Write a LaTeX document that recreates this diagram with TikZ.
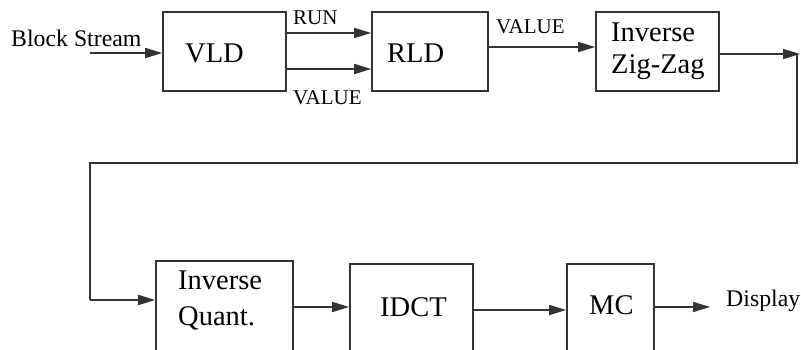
\documentclass[tikz,border=0pt]{standalone}
\usepackage{fontspec}
\setmainfont{Liberation Serif}
\usetikzlibrary{arrows.meta}
\tikzset{
  blk/.style={draw=black!80, line width=1.6pt, rectangle, inner sep=0pt},
  arr/.style={draw=black!80, line width=1.6pt, -{Triangle[length=17pt,width=10pt]}},
  wire/.style={draw=black!80, line width=1.6pt},
  big/.style={anchor=base west, inner sep=0pt, font=\fontsize{28.5}{32}\selectfont},
  mid/.style={anchor=base west, inner sep=0pt, font=\fontsize{23.8}{27}\selectfont},
  sml/.style={anchor=base west, inner sep=0pt, font=\fontsize{21}{24}\selectfont},
}
\begin{document}
\begin{tikzpicture}[x=1pt,y=-1pt]
\useasboundingbox (0,0) rectangle (801,350);
\clip (0,0) rectangle (801,350);

% processing blocks, upper row
\node[blk, minimum width=123pt, minimum height=79pt] (vld) at (224.5,51.5) {};
\node[blk, minimum width=116pt, minimum height=79pt] (rld) at (430,51.5) {};
\node[blk, minimum width=123pt, minimum height=79pt] (izz) at (657.5,51.5) {};

% processing blocks, lower row
\node[blk, minimum width=137pt, minimum height=99pt] (iq) at (224.5,310.5) {};
\node[blk, minimum width=123pt, minimum height=96pt] (idct) at (411.5,312) {};
\node[blk, minimum width=87pt, minimum height=96pt] (mc) at (610.5,312) {};

% block labels
\node[big] (tvld) at (185,62.3) {VLD};
\node[big] (trld) at (387,62.3) {RLD};
\node[big] (tizz1) at (611,41.7) {Inverse};
\node[big] (tizz2) at (611,74) {Zig-Zag};
\node[big] (tiq1) at (178,289.3) {Inverse};
\node[big] (tiq2) at (178,325) {Quant.};
\node[big] (tidct) at (380,316) {IDCT};
\node[big] (tmc) at (589,314) {MC};

% external labels
\node[mid] (tin) at (11,46.7) {Block Stream};
\node[mid] (tout) at (726,306.7) {Display};
\node[sml] (trun) at (293,25) {RUN};
\node[sml] (tval1) at (293,105) {VALUE};
\node[sml] (tval2) at (496,33.3) {VALUE};

% free ends and corners of the wiring
\coordinate (bsin) at (90,53);
\coordinate (rtip) at (800,54);
\coordinate (c1) at (797,54);
\coordinate (c2) at (797,163);
\coordinate (c3) at (90,163);
\coordinate (c4) at (90,300);
\coordinate (dout) at (710,307);

% connectors
\draw[arr] (bsin) -- (vld.west |- bsin);
\draw[arr] (vld.east |- 0,33) -- (rld.west |- 0,33);
\draw[arr] (vld.east |- 0,69) -- (rld.west |- 0,69);
\draw[arr] (rld.east |- 0,47) -- (izz.west |- 0,47);
\draw[arr] (izz.east |- rtip) -- (rtip);
\draw[wire] (c1) -- (c2) -- (c3) -- (c4);
\draw[arr] (c4) -- (iq.west |- c4);
\draw[arr] (iq.east |- 0,307) -- (idct.west |- 0,307);
\draw[arr] (idct.east |- 0,310) -- (mc.west |- 0,310);
\draw[arr] (mc.east |- dout) -- (dout);
\end{tikzpicture}
\end{document}
